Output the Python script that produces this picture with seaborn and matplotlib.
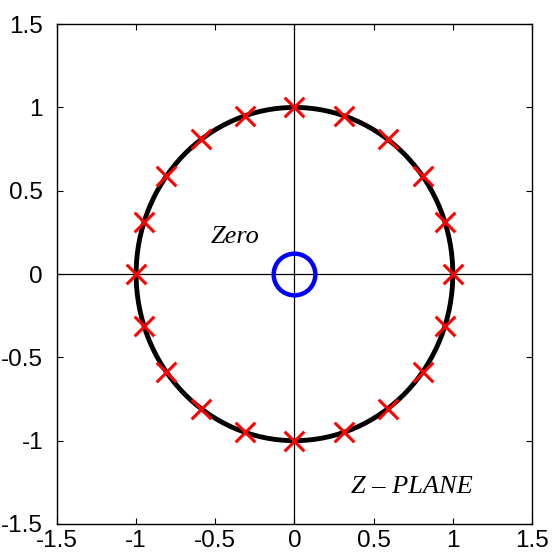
# Z-plane pole/zero plot
import pandas as pd
import seaborn as sns
import matplotlib.pyplot as plt
from matplotlib.patches import Circle

# poles (red crosses on the unit circle)
pole_x = [1.0, 0.95, 0.81, 0.59, 0.31, 0.0, -0.31, -0.59, -0.81, -0.95,
          -1.0, -0.95, -0.81, -0.59, -0.31, 0.0, 0.31, 0.59, 0.81, 0.95]
pole_y = [0.0, 0.31, 0.59, 0.81, 0.95, 1.0, 0.95, 0.81, 0.59, 0.31,
          0.0, -0.31, -0.59, -0.81, -0.95, -1.0, -0.95, -0.81, -0.59, -0.31]
zero_x = [0.0]
zero_y = [0.0]
unit_radius = 1.0
ticks = [-1.5, -1, -0.5, 0, 0.5, 1, 1.5]
tick_labels = ["-1.5", "-1", "-0.5", "0", "0.5", "1", "1.5"]

poles = pd.DataFrame({"x": pole_x, "y": pole_y})

sns.set_style("white")
plt.rcParams['font.family'] = ['Liberation Sans', 'DejaVu Sans']

fig = plt.figure(figsize=(5.53, 5.56), dpi=100)
ax = fig.add_axes([0.103, 0.0576, 0.859, 0.899])

# axis cross lines
ax.axhline(0, color='black', lw=0.9, zorder=1)
ax.axvline(0, color='black', lw=0.9, zorder=1)

# unit circle
ax.add_patch(Circle((0, 0), unit_radius, fill=False, ec='black', lw=3.5, zorder=2))

# poles
sns.scatterplot(data=poles, x='x', y='y', marker='x', color='red', s=200,
                linewidth=2.2, ax=ax, zorder=3)

# zero
ax.plot(zero_x, zero_y, 'o', ms=30, mfc='none', mec='blue', mew=3.2, zorder=4)

ax.text(-0.53, 0.22, "Zero", family=['Liberation Serif'], style='italic',
        fontsize=19, va='center', ha='left', color='black')
ax.text(0.36, -1.28, "Z \u2013 PLANE", family=['Liberation Serif'], style='italic',
        fontsize=19, va='center', ha='left', color='black')

ax.set_xlim(-1.5, 1.5)
ax.set_ylim(-1.5, 1.5)
ax.set_xticks(ticks)
ax.set_xticklabels(tick_labels)
ax.set_yticks(ticks)
ax.set_yticklabels(tick_labels)
ax.set_xlabel("")
ax.set_ylabel("")
ax.tick_params(direction='in', length=4, width=0.8, labelsize=17.5,
               top=True, right=True, bottom=True, left=True, colors='black')
ax.tick_params(axis='x', pad=4)
ax.tick_params(axis='y', pad=10)
for sp in ax.spines.values():
    sp.set_color('black')
    sp.set_linewidth(1.0)

fig.savefig("out.png", dpi=100, facecolor='white')
